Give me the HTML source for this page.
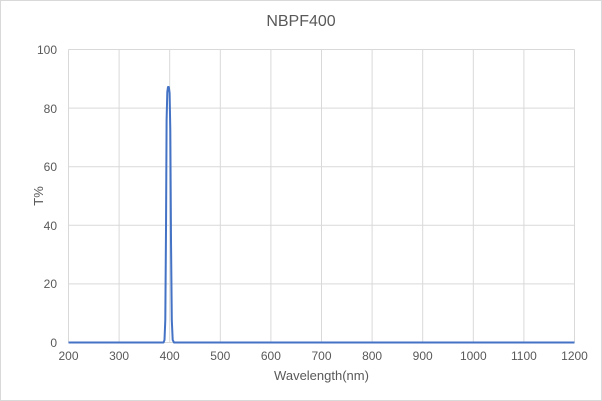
<!DOCTYPE html>
<html><head><style>
body{margin:0;background:#fff}
svg{display:block;font-family:"Liberation Sans",sans-serif}
</style></head><body>
<svg width="602" height="401" viewBox="0 0 602 401">
<rect x="0.5" y="0.5" width="601" height="400" fill="#fff" stroke="#d9d9d9"/>
<text x="301" y="26" text-anchor="middle" font-size="16" fill="#595959">NBPF400</text>
<g stroke="#d9d9d9" stroke-width="1">
<line x1="68.5" y1="49.5" x2="574.5" y2="49.5"/>
<line x1="68.5" y1="108.1" x2="574.5" y2="108.1"/>
<line x1="68.5" y1="166.7" x2="574.5" y2="166.7"/>
<line x1="68.5" y1="225.3" x2="574.5" y2="225.3"/>
<line x1="68.5" y1="283.9" x2="574.5" y2="283.9"/>
<line x1="68.5" y1="49.5" x2="68.5" y2="342.5"/>
<line x1="119.1" y1="49.5" x2="119.1" y2="342.5"/>
<line x1="169.7" y1="49.5" x2="169.7" y2="342.5"/>
<line x1="220.3" y1="49.5" x2="220.3" y2="342.5"/>
<line x1="270.9" y1="49.5" x2="270.9" y2="342.5"/>
<line x1="321.5" y1="49.5" x2="321.5" y2="342.5"/>
<line x1="372.1" y1="49.5" x2="372.1" y2="342.5"/>
<line x1="422.7" y1="49.5" x2="422.7" y2="342.5"/>
<line x1="473.3" y1="49.5" x2="473.3" y2="342.5"/>
<line x1="523.9" y1="49.5" x2="523.9" y2="342.5"/>
<line x1="574.5" y1="49.5" x2="574.5" y2="342.5"/>
<line x1="68.5" y1="342.5" x2="574.5" y2="342.5"/>
</g>
<g font-size="12" fill="#595959" text-anchor="end">
<text x="57" y="54">100</text><text x="57" y="113">80</text><text x="57" y="171">60</text>
<text x="57" y="230">40</text><text x="57" y="288">20</text><text x="57" y="347">0</text>
</g>
<g font-size="12" fill="#595959" text-anchor="middle">
<text x="68.5" y="360">200</text><text x="119.1" y="360">300</text><text x="169.7" y="360">400</text>
<text x="220.3" y="360">500</text><text x="270.9" y="360">600</text><text x="321.5" y="360">700</text>
<text x="372.1" y="360">800</text><text x="422.7" y="360">900</text><text x="473.3" y="360">1000</text>
<text x="523.9" y="360">1100</text><text x="574.5" y="360">1200</text>
</g>
<text x="321.5" y="380" text-anchor="middle" font-size="13" fill="#595959">Wavelength(nm)</text>
<text transform="translate(43,196) rotate(-90)" text-anchor="middle" font-size="13" fill="#595959">T%</text>
<path d="M68.5,342.5 L163.5,342.5 L164.5,340 L165.3,320 L166,230 L166.6,120 L167.3,92 L168,87 L168.8,87 L169.6,93 L170.3,130 L171,240 L171.8,320 L172.7,340 L174,342.5 L574.5,342.5" fill="none" stroke="#4472c4" stroke-width="2" stroke-linejoin="round"/>
</svg>
</body></html>
